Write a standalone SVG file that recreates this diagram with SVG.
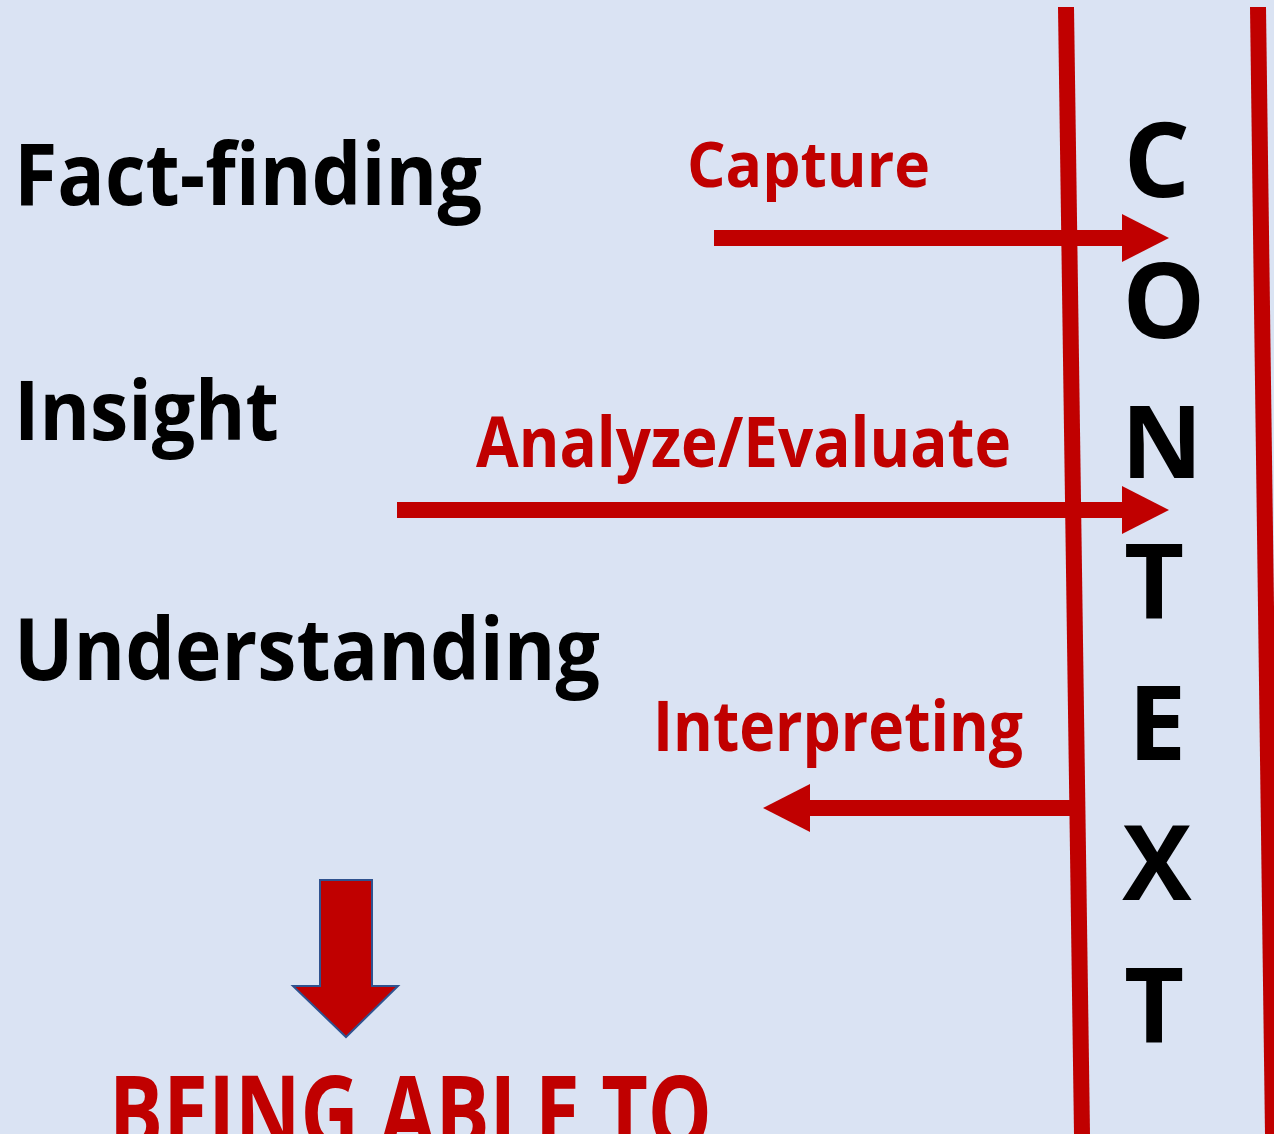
<svg xmlns="http://www.w3.org/2000/svg" width="1274" height="1134" viewBox="0 0 1274 1134">
<style>
.t{font-family:"Open Sans","Noto Sans","Liberation Sans",sans-serif;font-weight:700}
.blk{fill:#000}
.red{fill:#C00000}
.ln{stroke:#C00000;stroke-width:16;fill:none}
.hd{fill:#C00000}
</style>
<rect width="1274" height="1134" fill="#DAE3F3"/>
<g id="labels-left">
<text id="fact-finding" class="t blk" x="14" y="205" font-size="86" textLength="468" lengthAdjust="spacingAndGlyphs">Fact-finding</text>
<text id="insight" class="t blk" x="14" y="440" font-size="83" textLength="265" lengthAdjust="spacingAndGlyphs">Insight</text>
<text id="understanding" class="t blk" x="14" y="680" font-size="86" textLength="586" lengthAdjust="spacingAndGlyphs">Understanding</text>
</g>
<g id="context">
<text class="t blk" x="1157" y="197" font-size="104" text-anchor="middle">C</text>
<text class="t blk" x="1164" y="338" font-size="104" text-anchor="middle">O</text>
<text class="t blk" x="1162" y="478" font-size="100" text-anchor="middle">N</text>
<text class="t blk" x="1154" y="618" font-size="104" text-anchor="middle">T</text>
<text class="t blk" x="1157" y="760" font-size="104" text-anchor="middle">E</text>
<text class="t blk" x="1157" y="900" font-size="104" text-anchor="middle">X</text>
<text class="t blk" x="1154" y="1042" font-size="104" text-anchor="middle">T</text>
</g>
<g id="connectors">
<line class="ln" x1="1066" y1="7" x2="1082" y2="1134"/>
<line class="ln" x1="1258" y1="7" x2="1273" y2="1134"/>
<line class="ln" x1="714" y1="238" x2="1123" y2="238"/>
<polygon class="hd" points="1122,214 1169,238 1122,262"/>
<line class="ln" x1="397" y1="510" x2="1123" y2="510"/>
<polygon class="hd" points="1122,486 1169,510 1122,534"/>
<line class="ln" x1="809" y1="808" x2="1071" y2="808"/>
<polygon class="hd" points="810,784 763,808 810,832"/>
</g>
<g id="capture-label">
<text class="t red" x="687" y="187" font-size="62" textLength="243" lengthAdjust="spacingAndGlyphs">Capture</text>
</g>
<g id="analyze-label">
<text class="t red" x="476" y="467" font-size="69" textLength="535" lengthAdjust="spacingAndGlyphs">Analyze/Evaluate</text>
</g>
<g id="interpreting-label">
<text class="t red" x="653" y="751" font-size="69" textLength="370" lengthAdjust="spacingAndGlyphs">Interpreting</text>
</g>
<g id="down-arrow">
<polygon points="320,880 372,880 372,986 398,986 346,1037 293,986 320,986" fill="#C00000" stroke="#2F528F" stroke-width="2"/>
</g>
<g id="being-able-to">
<text class="t red" x="109" y="1149" font-size="103" textLength="603" lengthAdjust="spacingAndGlyphs">BEING ABLE TO</text>
</g>
</svg>
